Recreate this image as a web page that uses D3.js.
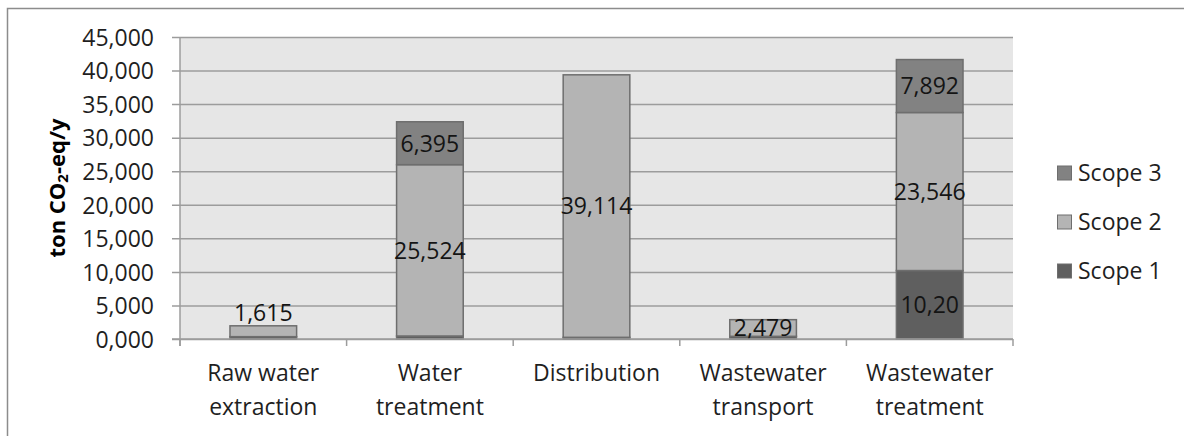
<!DOCTYPE html>
<html>
<head>
<meta charset="utf-8">
<script src="https://cdn.jsdelivr.net/npm/d3@7/dist/d3.min.js"></script>
<style>
  body { margin: 0; background: #fff; }
  text { font-family: "Open Sans", sans-serif; fill: #1f1f1f; }
</style>
</head>
<body>
<script>
// data
const categories = [["Raw water", "extraction"], ["Water", "treatment"], ["Distribution"], ["Wastewater", "transport"], ["Wastewater", "treatment"]];
const scope1 = [350, 450, 250, 400, 10200];
const scope2 = [1615, 25524, 39114, 2479, 23546];
const scope3 = [0, 6395, 0, 0, 7892];
const scope1Labels = ["", "", "", "", "10,20"];
const scope2Labels = ["1,615", "25,524", "39,114", "2,479", "23,546"];
const scope3Labels = ["", "6,395", "", "", "7,892"];
const seriesNames = ["Scope 1", "Scope 2", "Scope 3"];
const yTicks = [0, 5000, 10000, 15000, 20000, 25000, 30000, 35000, 40000, 45000];

const WIDTH = 1184;
const HEIGHT = 436;
const PLOT = {left: 180, right: 1013, top: 37, bottom: 339};
const COLORS = ["#5f5f5f", "#b4b4b4", "#828282"];

const svg = d3.select("body").append("svg")
    .attr("width", WIDTH)
    .attr("height", HEIGHT);

// outer frame
svg.append("rect")
    .attr("x", 7.5).attr("y", 8.5)
    .attr("width", WIDTH + 20).attr("height", HEIGHT + 20)
    .attr("fill", "none").attr("stroke", "#8c8c8c").attr("stroke-width", 1.5);

const keys = categories.map((c, i) => i);
const xscale = d3.scaleBand()
    .domain(keys)
    .range([PLOT.left, PLOT.right])
    .paddingInner(0.6)
    .paddingOuter(0.3);

const yscale = d3.scaleLinear()
    .domain([0, 45000])
    .range([PLOT.bottom, PLOT.top]);

// plot background
svg.append("rect")
    .attr("x", PLOT.left).attr("y", PLOT.top)
    .attr("width", PLOT.right - PLOT.left).attr("height", PLOT.bottom - PLOT.top)
    .attr("fill", "#e6e6e6");

// gridlines + y axis
const yAxis = d3.axisLeft(yscale)
    .tickValues(yTicks)
    .tickFormat(d => d === 0 ? "0,000" : d3.format(",.0f")(d / 1000) + ",000");

const yg = svg.append("g")
    .attr("transform", "translate(" + (PLOT.right) + ",0)")
    .call(yAxis);
yg.select(".domain").remove();
yg.selectAll(".tick line").attr("x1", 0).attr("x2", -(PLOT.right - PLOT.left) - 8)
    .attr("stroke", "#9c9c9c").attr("stroke-width", 1.5);
yg.selectAll(".tick text")
    .attr("x", -(PLOT.right - PLOT.left) - 26)
    .attr("dy", "0.36em")
    .style("font-size", "23px");

// left axis line
svg.append("line")
    .attr("x1", PLOT.left).attr("x2", PLOT.left)
    .attr("y1", PLOT.top).attr("y2", PLOT.bottom + 7)
    .attr("stroke", "#9c9c9c").attr("stroke-width", 1.5);

// stacked bars
const table = keys.map(i => ({i: i, s0: scope1[i], s1: scope2[i], s2: scope3[i]}));
const stack = d3.stack().keys(["s0", "s1", "s2"]);
const layers = stack(table);
const labelSets = [scope1Labels, scope2Labels, scope3Labels];

layers.forEach((layer, li) => {
    svg.append("g").selectAll("rect")
        .data(layer.filter(d => d[1] > d[0]))
        .join("rect")
        .attr("x", d => xscale(d.data.i))
        .attr("width", xscale.bandwidth())
        .attr("y", d => yscale(d[1]))
        .attr("height", d => yscale(d[0]) - yscale(d[1]))
        .attr("fill", COLORS[li])
        .attr("stroke", "#6e6e6e")
        .attr("stroke-width", 1.5);
});

layers.forEach((layer, li) => {
    svg.append("g").selectAll("text")
        .data(layer.filter(d => labelSets[li][d.data.i] !== ""))
        .join("text")
        .attr("x", d => xscale(d.data.i) + xscale.bandwidth() / 2)
        .attr("y", d => {
            let h = yscale(d[0]) - yscale(d[1]);
            // too small to hold the label: put it above the bar
            if (h < 16) return yscale(d[1]) - 13;
            return (yscale(d[0]) + yscale(d[1])) / 2;
        })
        .attr("dy", "0.36em")
        .attr("text-anchor", "middle")
        .style("font-size", "23px")
        .style("fill", "#141414")
        .text(d => labelSets[li][d.data.i]);
});

// bottom axis
svg.append("line")
    .attr("x1", PLOT.left - 8).attr("x2", PLOT.right)
    .attr("y1", PLOT.bottom).attr("y2", PLOT.bottom)
    .attr("stroke", "#9c9c9c").attr("stroke-width", 1.5);

const step = xscale.step();
const tickXs = keys.map(i => xscale(i) - step * 0.3).concat([PLOT.right]);
svg.append("g").selectAll("line")
    .data(tickXs)
    .join("line")
    .attr("x1", d => d).attr("x2", d => d)
    .attr("y1", PLOT.bottom).attr("y2", PLOT.bottom + 7)
    .attr("stroke", "#9c9c9c").attr("stroke-width", 1.5);

const catGroup = svg.append("g");
categories.forEach((lines, i) => {
    let t = catGroup.append("text")
        .attr("text-anchor", "middle")
        .style("font-size", "23px");
    lines.forEach((ln, k) => {
        t.append("tspan")
            .attr("x", xscale(i) + xscale.bandwidth() / 2)
            .attr("y", 381 + k * 34)
            .text(ln);
    });
});

// y axis title
const yt = svg.append("text")
    .attr("transform", "translate(65,188) rotate(-90)")
    .attr("text-anchor", "middle")
    .style("font-size", "22px")
    .style("font-weight", "bold")
    .style("fill", "#000");
yt.append("tspan").text("ton CO");
yt.append("tspan").style("font-size", "15px").attr("dy", 3).text("2");
yt.append("tspan").attr("dy", -3).text("-eq/y");

// legend
const legendOrder = [2, 1, 0];
const legend = svg.append("g");
legendOrder.forEach((si, k) => {
    let cy = 173 + k * 49;
    legend.append("rect")
        .attr("x", 1057.5).attr("y", cy - 7)
        .attr("width", 14).attr("height", 14)
        .attr("fill", COLORS[si])
        .attr("stroke", "#6e6e6e").attr("stroke-width", 1);
    legend.append("text")
        .attr("x", 1078).attr("y", cy)
        .attr("dy", "0.36em")
        .style("font-size", "23px")
        .text(seriesNames[si]);
});
</script>
</body>
</html>
